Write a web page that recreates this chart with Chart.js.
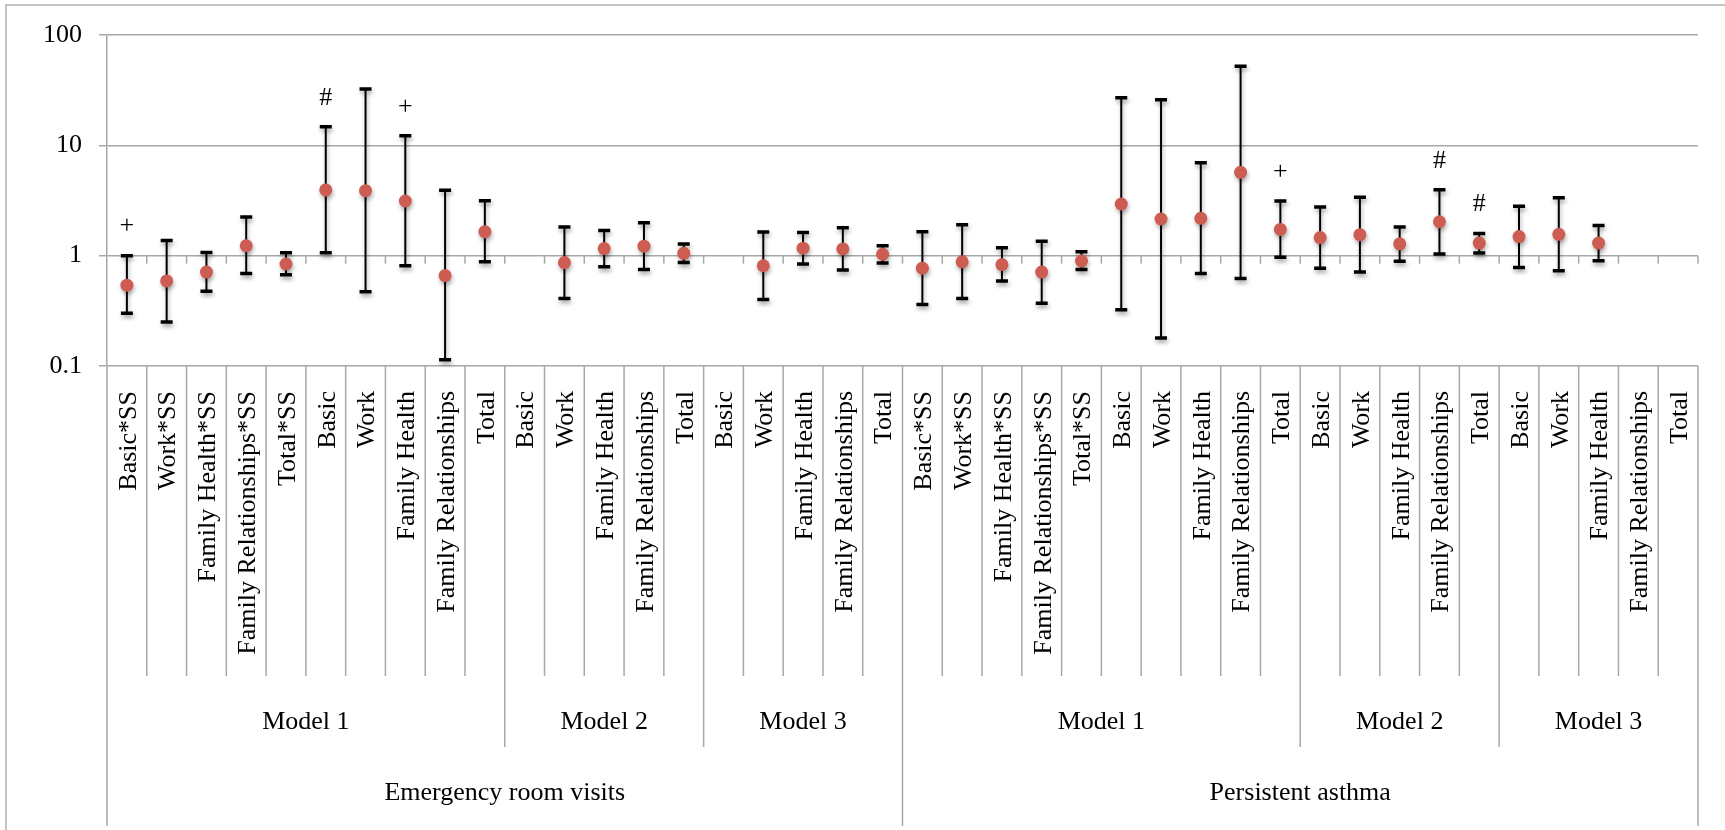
<!DOCTYPE html>
<html>
<head>
<meta charset="utf-8">
<title>Odds ratios - ER visits and persistent asthma</title>
<script src="https://cdn.jsdelivr.net/npm/chart.js@4.4.1/dist/chart.umd.min.js"></script>
<style>
  body { margin: 0; background: #fff; }
  canvas { display: block; }
</style>
</head>
<body>
<canvas id="or-chart" width="1725" height="830"></canvas>
<script>
// category labels, left to right
const categories = [
  'Basic*SS', 'Work*SS', 'Family Health*SS', 'Family Relationships*SS', 'Total*SS',
  'Basic', 'Work', 'Family Health', 'Family Relationships', 'Total',
  'Basic', 'Work', 'Family Health', 'Family Relationships', 'Total',
  'Basic', 'Work', 'Family Health', 'Family Relationships', 'Total',
  'Basic*SS', 'Work*SS', 'Family Health*SS', 'Family Relationships*SS', 'Total*SS',
  'Basic', 'Work', 'Family Health', 'Family Relationships', 'Total',
  'Basic', 'Work', 'Family Health', 'Family Relationships', 'Total',
  'Basic', 'Work', 'Family Health', 'Family Relationships', 'Total'
];
const modelLabels = ['Model 1', 'Model 2', 'Model 3', 'Model 1', 'Model 2', 'Model 3'];
const modelSizes = [10, 5, 5, 10, 5, 5];
const groupLabels = ['Emergency room visits', 'Persistent asthma'];
const groupSizes = [20, 20];

// odds ratio (dot) and 95% CI (whiskers)
const oddsRatio = [
  0.54, 0.59, 0.71, 1.23, 0.84, 3.94, 3.88, 3.13, 0.66, 1.65,
  null, 0.865, 1.16, 1.22, 1.05,
  null, 0.81, 1.17, 1.15, 1.03,
  0.77, 0.88, 0.83, 0.71, 0.895, 2.94, 2.15, 2.18, 5.69, 1.73,
  1.46, 1.55, 1.28, 2.03, 1.30,
  1.49, 1.56, 1.30, null, null
];
const ciLower = [
  0.30, 0.25, 0.475, 0.69, 0.67, 1.06, 0.47, 0.81, 0.114, 0.88,
  null, 0.41, 0.795, 0.75, 0.865,
  null, 0.40, 0.84, 0.74, 0.86,
  0.36, 0.41, 0.59, 0.37, 0.75, 0.324, 0.179, 0.69, 0.62, 0.97,
  0.77, 0.71, 0.89, 1.035, 1.057,
  0.78, 0.73, 0.90, null, null
];
const ciUpper = [
  1.0, 1.37, 1.07, 2.24, 1.06, 14.7, 32.4, 12.2, 3.91, 3.15,
  null, 1.82, 1.69, 1.99, 1.275,
  null, 1.64, 1.62, 1.79, 1.23,
  1.65, 1.91, 1.18, 1.35, 1.087, 27.0, 25.9, 6.96, 52, 3.13,
  2.76, 3.38, 1.82, 3.96, 1.59,
  2.80, 3.35, 1.88, null, null
];
// significance marks above the whiskers
const marks = [
  '+', '', '', '', '', '#', '', '+', '', '',
  '', '', '', '', '',
  '', '', '', '', '',
  '', '', '', '', '', '', '', '', '', '+',
  '', '', '', '#', '#',
  '', '', '', '', ''
];
const yTicks = [0.1, 1, 10, 100];

const FONT = "'Liberation Serif', 'Times New Roman', serif";
const GRID = '#a8a8a8';

// whiskers are drawn under the dots
const errorBars = {
  id: 'errorBars',
  beforeDatasetsDraw(chart) {
    const ctx = chart.ctx;
    const x = chart.scales.x;
    const y = chart.scales.y;
    ctx.save();
    ctx.strokeStyle = '#000';
    ctx.shadowColor = 'rgba(0,0,0,0.35)';
    ctx.shadowBlur = 4;
    ctx.shadowOffsetX = 1;
    ctx.shadowOffsetY = 3;
    for (let i = 0; i < categories.length; i++) {
      if (ciLower[i] == null || ciUpper[i] == null) continue;
      const px = x.getPixelForValue(i);
      const lo = y.getPixelForValue(ciLower[i]);
      const hi = y.getPixelForValue(ciUpper[i]);
      ctx.lineWidth = 2;
      ctx.beginPath();
      ctx.moveTo(px, lo);
      ctx.lineTo(px, hi);
      ctx.stroke();
      ctx.lineWidth = 3.5;
      ctx.beginPath();
      ctx.moveTo(px - 6, lo);
      ctx.lineTo(px + 6, lo);
      ctx.moveTo(px - 6, hi);
      ctx.lineTo(px + 6, hi);
      ctx.stroke();
    }
    ctx.restore();
  },
  beforeDatasetDraw(chart) {
    const ctx = chart.ctx;
    ctx.save();
    ctx.shadowColor = 'rgba(0,0,0,0.3)';
    ctx.shadowBlur = 4;
    ctx.shadowOffsetX = 1;
    ctx.shadowOffsetY = 3;
  },
  afterDatasetDraw(chart) {
    chart.ctx.restore();
  },
  afterDatasetsDraw(chart) {
    const ctx = chart.ctx;
    const x = chart.scales.x;
    const y = chart.scales.y;
    ctx.save();
    ctx.fillStyle = '#000';
    ctx.font = '26px ' + FONT;
    ctx.textAlign = 'center';
    ctx.textBaseline = 'middle';
    marks.forEach((m, i) => {
      if (!m) return;
      ctx.fillText(m, x.getPixelForValue(i), y.getPixelForValue(ciUpper[i]) - 29);
    });
    ctx.restore();
  }
};

// Excel style multi-level category axis below the plot
const excelAxis = {
  id: 'excelAxis',
  beforeDraw(chart) {
    const ctx = chart.ctx;
    ctx.save();
    ctx.strokeStyle = '#c4c4c4';
    ctx.lineWidth = 2;
    ctx.strokeRect(6, 5, chart.width + 20, chart.height + 20);
    ctx.restore();
  },
  afterDraw(chart) {
    const ctx = chart.ctx;
    const x = chart.scales.x;
    const y = chart.scales.y;
    const bottom = chart.chartArea.bottom;
    const edge = i => x.getPixelForValue(i - 0.5);
    const yOne = y.getPixelForValue(1);

    ctx.save();
    ctx.strokeStyle = GRID;
    ctx.lineWidth = 1.5;

    // small tick marks on the axis crossing at 1
    ctx.beginPath();
    for (let i = 1; i <= categories.length; i++) {
      ctx.moveTo(edge(i), yOne);
      ctx.lineTo(edge(i), yOne + 8);
    }
    ctx.stroke();

    // separators: category level, model level, group level
    const modelEdges = new Set();
    let acc = 0;
    modelSizes.forEach(n => { acc += n; modelEdges.add(acc); });
    const groupEdges = new Set([0]);
    acc = 0;
    groupSizes.forEach(n => { acc += n; groupEdges.add(acc); });
    ctx.beginPath();
    for (let i = 0; i <= categories.length; i++) {
      let len = 310;
      if (groupEdges.has(i)) len = 460;
      else if (modelEdges.has(i)) len = 381;
      ctx.moveTo(edge(i), bottom);
      ctx.lineTo(edge(i), bottom + len);
    }
    ctx.stroke();

    ctx.fillStyle = '#000';
    ctx.font = '26px ' + FONT;

    // rotated category labels
    categories.forEach((c, i) => {
      ctx.save();
      ctx.translate(x.getPixelForValue(i) + 2, bottom + 25);
      ctx.rotate(-Math.PI / 2);
      ctx.textAlign = 'right';
      ctx.textBaseline = 'middle';
      ctx.fillText(c, 0, 0);
      ctx.restore();
    });

    ctx.textAlign = 'center';
    ctx.textBaseline = 'alphabetic';
    let start = 0;
    modelLabels.forEach((m, k) => {
      const mid = (edge(start) + edge(start + modelSizes[k])) / 2;
      ctx.fillText(m, mid, bottom + 363);
      start += modelSizes[k];
    });
    start = 0;
    groupLabels.forEach((g, k) => {
      const mid = (edge(start) + edge(start + groupSizes[k])) / 2;
      ctx.fillText(g, mid, bottom + 434);
      start += groupSizes[k];
    });
    ctx.restore();
  }
};

const canvas = document.querySelector('#or-chart');
new Chart(canvas.getContext('2d'), {
  type: 'line',
  data: {
    labels: categories,
    datasets: [{
      label: 'Odds ratio',
      data: oddsRatio,
      showLine: false,
      pointRadius: 6.5,
      pointHoverRadius: 6.5,
      pointBackgroundColor: '#cd5c53',
      pointBorderWidth: 0
    }]
  },
  options: {
    responsive: false,
    animation: false,
    layout: { padding: { left: 0, top: 35, right: 27, bottom: 464 } },
    scales: {
      x: {
        type: 'category',
        offset: true,
        display: false
      },
      y: {
        type: 'logarithmic',
        min: 0.1,
        max: 100,
        afterBuildTicks: axis => { axis.ticks = yTicks.map(v => ({ value: v })); },
        afterFit: axis => { axis.width = 107; },
        grid: { color: GRID, lineWidth: 1.5, tickLength: 8 },
        border: { color: GRID, width: 1.5 },
        ticks: {
          padding: 17,
          color: '#000',
          font: { family: FONT, size: 26 },
          callback: v => String(v)
        }
      }
    },
    plugins: {
      legend: { display: false },
      tooltip: { enabled: false }
    }
  },
  plugins: [errorBars, excelAxis]
});
</script>
</body>
</html>
